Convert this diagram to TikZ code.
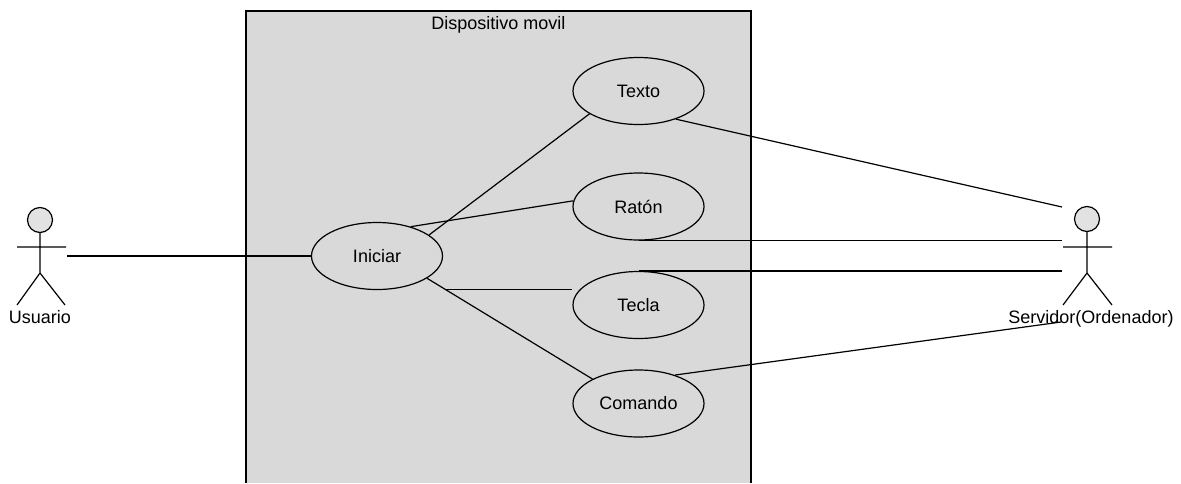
\documentclass[tikz,border=0pt]{standalone}
\usepackage{fontspec}
\setmainfont{Liberation Sans}
\usetikzlibrary{shapes.geometric}
\definecolor{sysgray}{RGB}{217,217,217}
\definecolor{headgray}{RGB}{226,226,226}
\begin{document}
\begin{tikzpicture}[x=1pt,y=-1pt,
  usecase/.style={ellipse,draw,line width=1.2pt,fill=sysgray,minimum width=131pt,minimum height=67pt,inner sep=0pt,font=\fontsize{18}{21}\selectfont},
  lbl/.style={font=\fontsize{18}{21}\selectfont,inner sep=0pt},
  conn/.style={line width=1.2pt},
  stick/.style={line width=1.2pt}]
\useasboundingbox (0,0) rectangle (1181,483);
% system boundary
\fill[sysgray] (246,11) rectangle (751,483);
\draw[line width=1.2pt] (246,483) -- (246,11) -- (751,11) -- (751,483);
\node[lbl,anchor=base] (title) at (498.5,29) {Dispositivo movil};
% actor Usuario
\draw[stick,fill=headgray] (40,220) circle (12.5pt);
\draw[stick] (40,232.5) -- (40,273) (17,247) -- (66,247) (17,305) -- (40,273) -- (65,305);
\node[lbl,anchor=base] (usuario) at (40,323) {Usuario};
% actor Servidor
\draw[stick,fill=headgray] (1087,219) circle (12.5pt);
\draw[stick] (1087,231.5) -- (1087,273) (1063,247) -- (1112,247) (1063,305) -- (1087,273) -- (1112,305);
\node[lbl,anchor=base] (servidor) at (1091,323) {Servidor(Ordenador)};
% connector ends at the actors
\coordinate (usr) at (67,256);
\coordinate (srv1) at (1062,207);
\coordinate (srv2) at (1062,241);
\coordinate (srv3) at (1062,273);
\coordinate (srv4) at (1061,322);
% use cases
\node[usecase] (ini) at (377,256) {Iniciar};
\node[usecase] (texto) at (638.5,91) {Texto};
\node[usecase] (raton) at (638.5,206.5) {Ratón};
\node[usecase] (tecla) at (638.5,305) {Tecla};
\node[usecase] (cmd) at (638.5,403.5) {Comando};
% connectors
\draw[conn] (usr) -- (ini.west);
\draw[conn] (ini.22) -- (texto.205);
\draw[conn] (ini.41) -- (raton.175);
\draw[conn] (ini.-24) -- coordinate[pos=0.11] (tk) (cmd.152);
\draw[conn] (tk) -- (tk -| tecla.west);
\draw[conn] (texto.-37) -- (srv1);
\draw[conn] (raton.south) -- (raton.south -| srv2);
\draw[conn] (tecla.north) -- (tecla.north -| srv3);
\draw[conn] (cmd.38) -- (srv4);
\end{tikzpicture}
\end{document}
